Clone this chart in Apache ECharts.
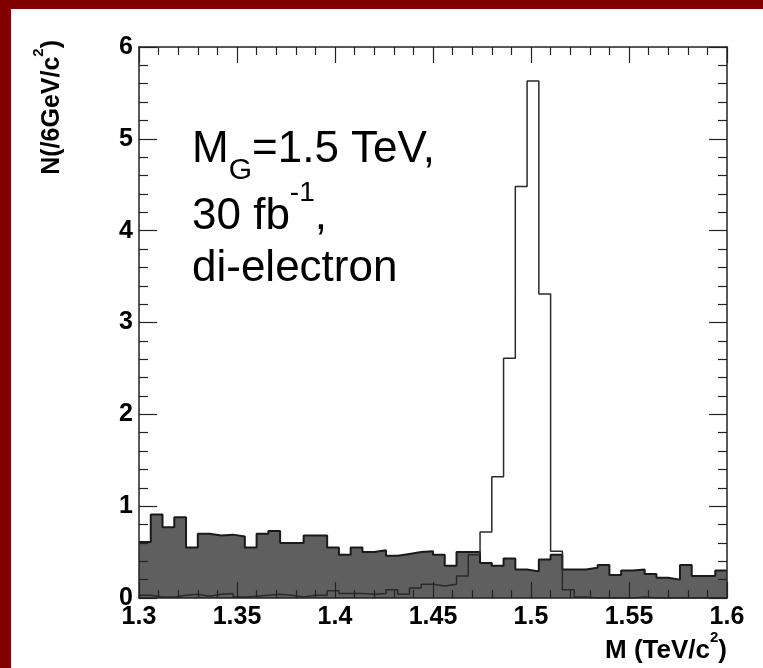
<!DOCTYPE html>
<html><head><meta charset="utf-8">
<script src="https://cdn.jsdelivr.net/npm/echarts@6/dist/echarts.min.js"></script>
<style>
html,body{margin:0;padding:0;background:#800000;width:763px;height:668px;overflow:hidden;}
#paper{position:absolute;left:11px;top:9px;right:0;bottom:0;background:#ffffff;}
#c{position:absolute;left:0;top:0;width:763px;height:668px;}
</style>
</head><body><div id="paper"></div><div id="c"></div>
<script>
// ---- data ----
const xMin = 1.3;
const xMax = 1.6;
const binWidth = 0.006;           // 6 GeV bins, 50 bins
const background = [0.61,0.91,0.77,0.88,0.55,0.70,0.68,0.69,0.67,0.55,
                    0.70,0.73,0.60,0.60,0.68,0.68,0.55,0.47,0.55,0.50,
                    0.52,0.46,0.48,0.50,0.51,0.47,0.35,0.50,0.50,0.38,
                    0.35,0.43,0.31,0.29,0.42,0.47,0.31,0.31,0.33,0.36,
                    0.25,0.30,0.31,0.26,0.22,0.20,0.36,0.24,0.24,0.30];
const signal = [0.03,0.01,0.01,0.03,0.04,0.02,0.04,0.05,0.01,0.02,
                0.03,0.04,0.03,0.01,0.03,0.03,0.08,0.05,0.05,0.04,
                0.05,0.09,0.04,0.11,0.15,0.13,0.15,0.24,0.47,0.72,
                1.32,2.61,4.48,5.63,3.31,0.51,0.09,0.01,0,0,
                0,0,0.01,0,0,0,0,0,0,0];
const yMin = 0, yMax = 6, yInterval = 1, xInterval = 0.05;
const xTitle = ['M (TeV/c', '2', ')'];
const yTitle = ['N(/6GeV/c', '2', ')'];
const noteLine1 = ['M', 'G', '=1.5 TeV,'];
const noteLine2 = ['30 fb', '-1', ','];
const noteLine3 = 'di-electron';

function stepData(vals){
  const d = vals.map((v,i)=>[xMin + i*binWidth, v]);
  d.push([xMin + vals.length*binWidth, vals[vals.length-1]]);
  return d;
}

const FF = '"Liberation Sans", Arial, Helvetica, sans-serif';
const ctx = document.createElement('canvas').getContext('2d');
function tw(t, f){ ctx.font = f; return ctx.measureText(t).width; }

const frameColor = '#222';
function xAx(pos, labels){
  return {
    type:'value', position:pos, min:xMin, max:xMax, interval:xInterval, z:10,
    axisLine:{show:true, onZero:false, lineStyle:{color:frameColor, width:1.5}},
    axisTick:{show:true, inside:true, length:16, lineStyle:{color:frameColor, width:1.2}},
    minorTick:{show:true, splitNumber:5, length:8, lineStyle:{color:frameColor, width:1.2}},
    splitLine:{show:false},
    axisLabel:{show:labels, margin:7, color:'#000', fontFamily:FF, fontWeight:'bold', fontSize:25,
      formatter:v=>String(parseFloat(v.toFixed(2)))}
  };
}
function yAx(pos, labels){
  return {
    type:'value', position:pos, min:yMin, max:yMax, interval:yInterval, z:10,
    axisLine:{show:true, onZero:false, lineStyle:{color:frameColor, width:1.5}},
    axisTick:{show:true, inside:true, length:18, lineStyle:{color:frameColor, width:1.2}},
    minorTick:{show:true, splitNumber:5, length:9, lineStyle:{color:frameColor, width:1.2}},
    splitLine:{show:false},
    axisLabel:{show:labels, margin:6, color:'#000', fontFamily:FF, fontWeight:'bold', fontSize:25}
  };
}

const bigF = '44px ' + FF, subF = '30px ' + FF, supF = '28px ' + FF;
const nx = 192;
function T(text, x, y, font, align){
  return {type:'text', z:20, style:{text:text, x:x, y:y, font:font, fill:'#000',
    align:align||'left', verticalAlign:'middle', textAlign:align||'left', textVerticalAlign:'middle'}};
}
const wM = tw(noteLine1[0], bigF), wG = tw(noteLine1[1], subF);
const w30 = tw(noteLine2[0], bigF), wSup = tw(noteLine2[1], supF);

const titleRich = function(big, small){
  return {a:{fontFamily:FF, fontWeight:'bold', fontSize:big, fill:'#000', color:'#000', lineHeight:big+8, verticalAlign:'bottom'},
          s:{fontFamily:FF, fontWeight:'bold', fontSize:small, fill:'#000', color:'#000', lineHeight:big+8, verticalAlign:'top'}};
};

const chart = echarts.init(document.getElementById('c'), null, {renderer:'canvas'});
chart.setOption({
  animation:false,
  backgroundColor:'transparent',
  grid:{left:139, top:47, width:588, height:551, containLabel:false},
  xAxis:[xAx('bottom', true), xAx('top', false)],
  yAxis:[yAx('left', true), yAx('right', false)],
  series:[
    {type:'line', step:'end', symbol:'none', data:stepData(background), z:2,
     lineStyle:{color:'#1a1a1a', width:2}, areaStyle:{color:'#5f5f5f', opacity:1, origin:'start'}},
    {type:'line', step:'end', symbol:'none', data:stepData(signal), z:3,
     lineStyle:{color:'#2a2a2a', width:1.5}}
  ],
  graphic:[
    T(noteLine1[0], nx, 150, bigF),
    T(noteLine1[1], nx + wM, 171, subF),
    T(noteLine1[2], nx + wM + wG, 150, bigF),
    T(noteLine2[0], nx, 217, bigF),
    T(noteLine2[1], nx + w30, 193, supF),
    T(noteLine2[2], nx + w30 + wSup, 217, bigF),
    T(noteLine3, nx, 269, bigF),
    {type:'text', z:20, x:727, y:647, style:{
      text:'{a|'+xTitle[0]+'}{s|'+xTitle[1]+'}{a|'+xTitle[2]+'}',
      align:'right', verticalAlign:'middle', textAlign:'right', textVerticalAlign:'middle',
      rich:titleRich(26, 15)}},
    {type:'text', z:20, x:48, y:40, rotation:Math.PI/2, style:{
      text:'{a|'+yTitle[0]+'}{s|'+yTitle[1]+'}{a|'+yTitle[2]+'}',
      align:'right', verticalAlign:'middle', textAlign:'right', textVerticalAlign:'middle',
      rich:titleRich(25, 15)}}
  ]
});
</script>
</body></html>
